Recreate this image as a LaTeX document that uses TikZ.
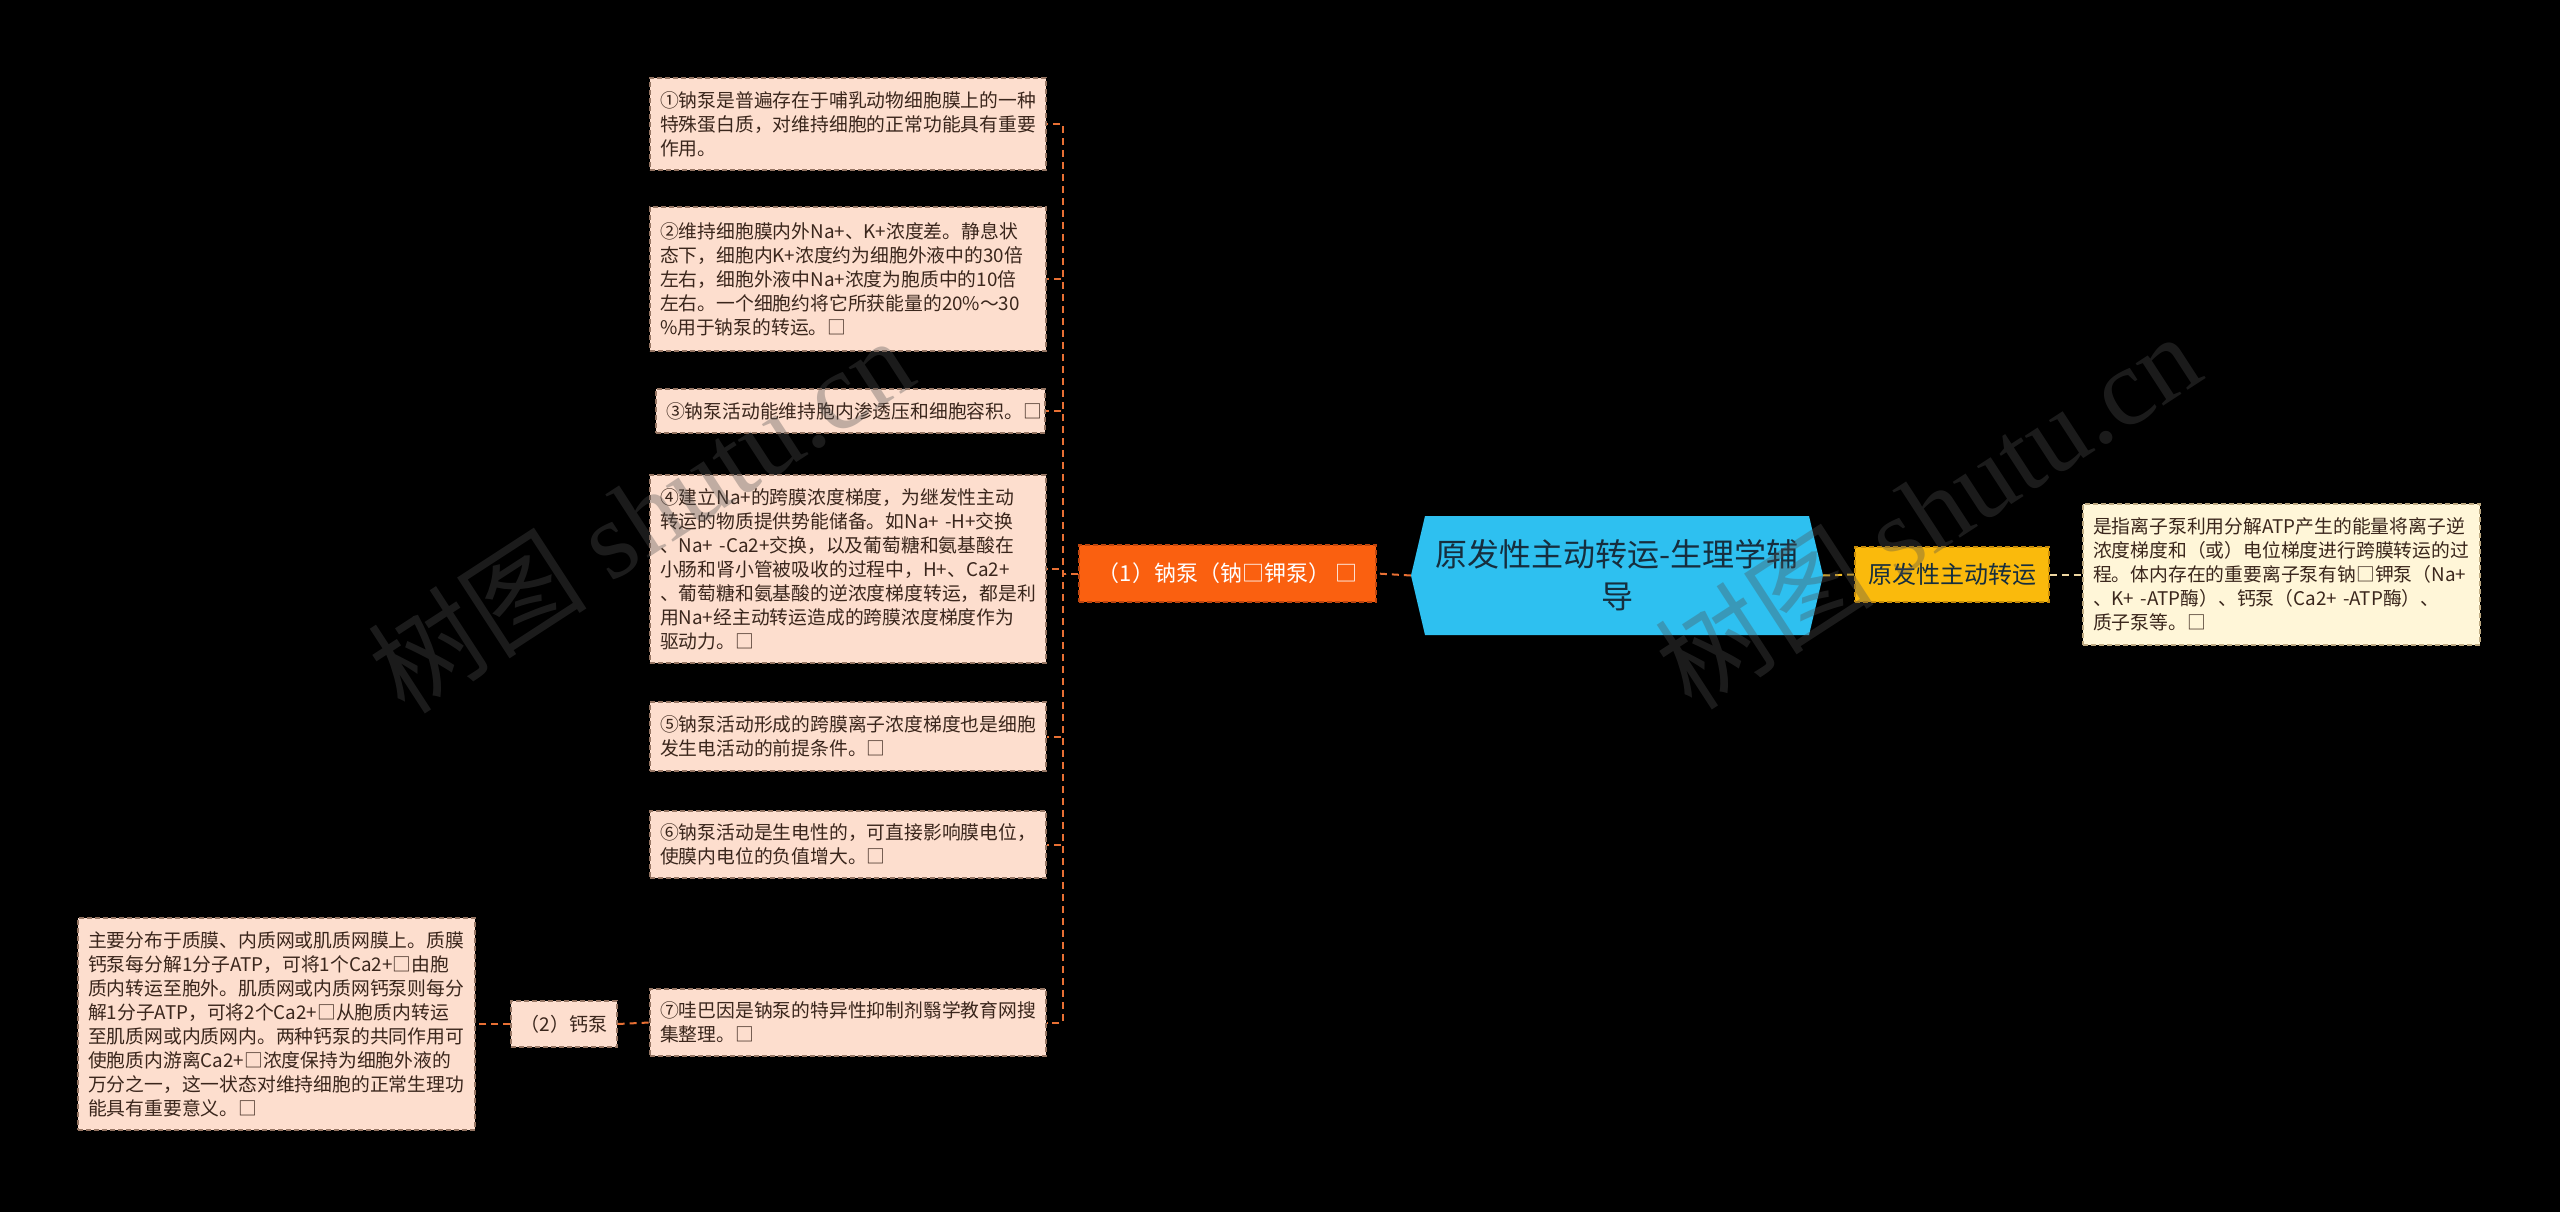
\documentclass[tikz,border=0pt]{standalone}
\usepackage{fontspec}
\setmainfont{Noto Sans CJK SC}
\newfontfamily\wmserif{Liberation Serif}
\definecolor{peach}{RGB}{253,222,206}
\definecolor{leafline}{RGB}{150,118,100}
\definecolor{leaftext}{RGB}{58,38,28}
\definecolor{orangeconn}{RGB}{232,112,52}
\definecolor{nafill}{RGB}{250,96,16}
\definecolor{naline}{RGB}{190,70,15}
\definecolor{rootblue}{RGB}{46,192,240}
\definecolor{roottext}{RGB}{22,46,62}
\definecolor{yel}{RGB}{250,186,12}
\definecolor{yelline}{RGB}{200,140,10}
\definecolor{yelconn}{RGB}{245,190,40}
\definecolor{cream}{RGB}{255,246,216}
\definecolor{creamline}{RGB}{190,170,130}
\definecolor{creamconn}{RGB}{238,214,160}
\definecolor{wm}{RGB}{80,80,80}
\newcommand\fsz[2]{\fontsize{#1}{#2}\selectfont}
\tikzset{
  boxdash/.style={dash pattern=on 5pt off 3pt, line width=1.4pt},
  leaf/.style={boxdash, draw=leafline, fill=peach, text=leaftext,
    font=\fsz{18.8}{24}, align=left, inner xsep=10pt, inner ysep=0pt, text width=376pt},
  oconn/.style={draw=orangeconn, line width=2pt, dash pattern=on 7pt off 5pt},
  yconn/.style={draw=yelconn, line width=2pt, dash pattern=on 7pt off 5pt},
  cconn/.style={draw=creamconn, line width=2pt, dash pattern=on 7pt off 5pt},
  wmark/.style={text=wm, opacity=0.35, rotate=33, inner sep=0pt}
}
\begin{document}
\begin{tikzpicture}[x=1pt,y=-1pt]
\useasboundingbox (0,0) rectangle (2560,1212);
\fill[black] (0,0) rectangle (2560,1212);

% root hexagon
\fill[rootblue] (1425,516) -- (1809,516) -- (1823,575.5) -- (1809,635) -- (1425,635) -- (1411,575.5) -- cycle;
\node[minimum width=412pt, minimum height=119pt, inner sep=0pt, align=center, text=roottext, font=\fsz{32}{42}] (root) at (1617,575.5) {原发性主动转运-生理学辅\\导};

% first-level nodes
\node[boxdash, draw=naline, fill=nafill, text=white, font=\fsz{22}{26}, minimum width=297pt, minimum height=57pt, inner sep=0pt] (n1) at (1227.5,573.5) {（1）钠泵（钠□钾泵） □};
\node[boxdash, draw=yelline, fill=yel, text=roottext, font=\fsz{24}{28}, minimum width=194pt, minimum height=55pt, inner sep=0pt] (r1) at (1952,574.5) {原发性主动转运};
\node[boxdash, draw=creamline, fill=cream, text=leaftext, font=\fsz{18.8}{24}, align=left, inner xsep=10pt, inner ysep=0pt, text width=377pt, minimum height=141pt] (r2) at (2281.5,574.5) {是指离子泵利用分解ATP产生的能量将离子逆\\浓度梯度和（或）电位梯度进行跨膜转运的过\\程。体内存在的重要离子泵有钠□钾泵（Na+\\、K+ -ATP酶）、钙泵（Ca2+ -ATP酶）、\\质子泵等。□};

% left leaves
\node[leaf, minimum height=92pt] (s1) at (848,124) {①钠泵是普遍存在于哺乳动物细胞膜上的一种\\特殊蛋白质，对维持细胞的正常功能具有重要\\作用。};
\node[leaf, minimum height=144pt] (s2) at (848,279) {②维持细胞膜内外Na+、K+浓度差。静息状\\态下，细胞内K+浓度约为细胞外液中的30倍\\左右，细胞外液中Na+浓度为胞质中的10倍\\左右。一个细胞约将它所获能量的20\%～30\\\%用于钠泵的转运。□};
\node[leaf, text width=369pt, minimum height=44pt] (s3) at (850.5,411) {③钠泵活动能维持胞内渗透压和细胞容积。□};
\node[leaf, minimum height=188pt] (s4) at (848,569) {④建立Na+的跨膜浓度梯度，为继发性主动\\转运的物质提供势能储备。如Na+ -H+交换\\、Na+ -Ca2+交换，以及葡萄糖和氨基酸在\\小肠和肾小管被吸收的过程中，H+、Ca2+\\、葡萄糖和氨基酸的逆浓度梯度转运，都是利\\用Na+经主动转运造成的跨膜浓度梯度作为\\驱动力。□};
\node[leaf, minimum height=69pt] (s5) at (848,736.5) {⑤钠泵活动形成的跨膜离子浓度梯度也是细胞\\发生电活动的前提条件。□};
\node[leaf, minimum height=67pt] (s6) at (848,844.5) {⑥钠泵活动是生电性的，可直接影响膜电位，\\使膜内电位的负值增大。□};
\node[leaf, minimum height=67pt] (s7) at (848,1022.5) {⑦哇巴因是钠泵的特异性抑制剂翳学教育网搜\\集整理。□};

\node[boxdash, draw=leafline, fill=peach, text=leaftext, font=\fsz{19}{24}, minimum width=106pt, minimum height=46pt, inner sep=0pt] (ca2) at (564,1024) {（2）钙泵};
\node[leaf, text width=377pt, minimum height=212pt] (ca) at (276.5,1024) {主要分布于质膜、内质网或肌质网膜上。质膜\\钙泵每分解1分子ATP，可将1个Ca2+□由胞\\质内转运至胞外。肌质网或内质网钙泵则每分\\解1分子ATP，可将2个Ca2+□从胞质内转运\\至肌质网或内质网内。两种钙泵的共同作用可\\使胞质内游离Ca2+□浓度保持为细胞外液的\\万分之一，这一状态对维持细胞的正常生理功\\能具有重要意义。□};

% connectors
\coordinate (T) at (1063,573.5);
\draw[oconn] (root.west) -- (n1.east);
\foreach \s in {s1,s2,s3,s4,s5,s6,s7}{
  \draw[oconn] (n1.west) -- (T) |- (\s.east);
}
\draw[oconn] (ca2.east) -- (s7.west);
\draw[oconn] (ca2.west) -- (ca.east);
\draw[yconn] (root.east) -- (r1.west);
\draw[cconn] (r1.east) -- (r2.west);

% watermarks
\node[wmark] (wm1) at (640,514) {\fsz{110}{110}树图 {\wmserif shutu.cn}};
\node[wmark] (wm2) at (1927,510) {\fsz{110}{110}树图 {\wmserif shutu.cn}};
\end{tikzpicture}
\end{document}
